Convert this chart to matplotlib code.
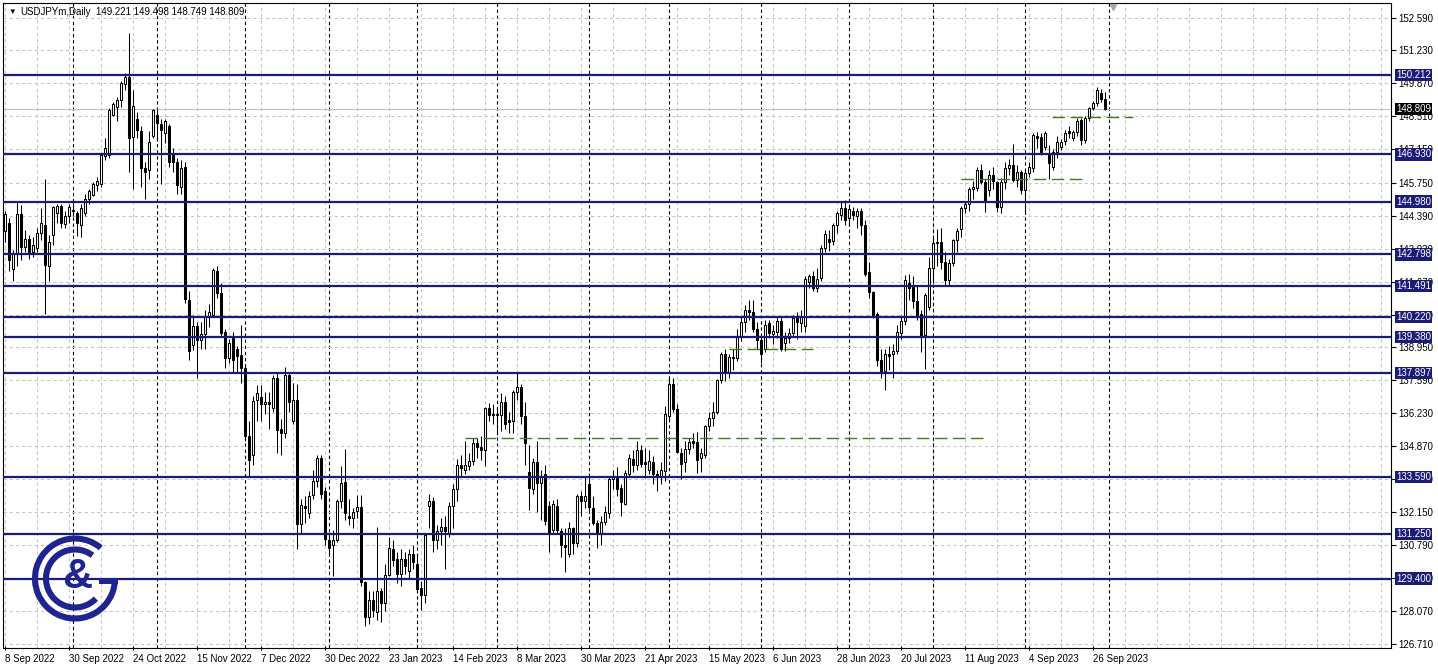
import matplotlib
matplotlib.use('Agg')
import matplotlib.pyplot as plt
from matplotlib.patches import Arc, Rectangle
import matplotlib.transforms as mtransforms
import numpy as np
import pandas as pd

plt.rcParams['font.family'] = ['Liberation Sans', 'DejaVu Sans']

# daily USDJPYm bars, 8 Sep 2022 .. 29 Sep 2023 (Dec 26 2022 missing)
opens = [
    143.75, 144.10, 142.20, 142.80, 144.45, 143.10, 143.45, 142.90, 143.05, 143.70,
    144.00, 142.30, 143.60, 144.50, 144.80, 144.05, 144.40, 144.60, 144.50, 144.00,
    144.50, 145.10, 145.25, 145.65, 145.70, 146.85, 146.90, 148.55, 148.90, 149.20,
    149.85, 150.15, 147.65, 148.40, 147.90, 146.35, 146.30, 147.70, 148.55, 148.20,
    147.80, 148.10, 147.00, 146.60, 145.60, 146.40, 140.90, 139.05, 139.85, 139.25,
    139.50, 140.20, 140.30, 142.10, 141.20, 139.60, 138.50, 139.35, 138.90, 138.65,
    138.10, 135.30, 134.50, 136.80, 136.90, 136.60, 136.70, 136.45, 137.70, 135.60,
    135.40, 137.80, 135.90, 136.80, 131.67, 132.40, 132.10, 132.85, 133.45, 134.40,
    133.00, 131.00, 130.80, 131.00, 132.60, 133.40, 132.00, 131.90, 132.20, 132.35,
    129.25, 127.80, 128.50, 128.00, 128.90, 128.40, 129.55, 130.60, 130.20, 129.60,
    130.20, 129.70, 130.40, 130.00, 129.00, 128.70, 132.40, 132.60, 131.00, 131.35,
    131.55, 131.30, 132.40, 133.10, 134.10, 133.90, 134.05, 134.25, 135.00, 134.85,
    134.70, 136.45, 136.20, 136.15, 136.15, 136.70, 135.95, 135.90, 137.10, 137.30,
    136.10, 133.80, 133.10, 134.20, 133.35, 133.70, 132.40, 131.40, 132.40, 131.35,
    130.80, 130.40, 131.50, 130.85, 132.80, 132.60, 133.30, 132.30, 131.70, 131.30,
    131.75, 132.10, 133.50, 133.55, 133.15, 132.50, 133.70, 134.35, 134.10, 134.70,
    134.20, 133.90, 134.20, 133.70, 133.60, 133.85, 136.10, 137.45, 136.40, 134.60,
    134.20, 134.75, 135.10, 135.05, 134.40, 134.50, 135.70, 136.05, 136.30, 137.60,
    138.67, 137.90, 138.50, 138.50, 139.43, 140.00, 140.50, 140.40, 139.73, 139.25,
    138.90, 139.95, 139.50, 139.60, 140.05, 139.15, 139.35, 139.55, 140.15, 139.95,
    139.85, 141.66, 141.90, 141.40, 141.83, 143.07, 143.45, 143.34, 144.03, 144.42,
    144.72, 144.30, 144.60, 144.40, 144.60, 144.00, 142.07, 141.25, 140.35, 138.42,
    137.97, 138.70, 138.70, 138.80, 139.56, 140.05, 141.60, 141.45, 140.86, 140.35,
    139.45, 140.63, 142.24, 143.25, 143.30, 142.50, 141.75, 142.45, 143.40, 143.85,
    144.70, 144.90, 145.50, 145.55, 146.30, 145.80, 145.45, 146.10, 145.80, 144.76,
    145.80, 146.38, 146.50, 145.87, 146.20, 145.45, 146.17, 146.35, 147.70, 147.66,
    147.25, 147.00, 146.40, 147.04, 147.25, 147.48, 147.89, 147.60, 147.84, 148.35,
    147.52, 148.42, 148.86, 149.04, 149.49, 149.221,
]
highs = [
    144.60, 144.30, 143.00, 144.95, 144.85, 143.80, 143.60, 143.50, 143.90, 144.70,
    145.90, 143.60, 144.80, 144.90, 144.90, 144.60, 144.90, 145.00, 144.60, 144.90,
    145.30, 145.50, 145.80, 146.00, 146.95, 147.60, 148.85, 149.10, 149.30, 149.95,
    150.30, 151.93, 149.60, 148.70, 148.10, 146.60, 147.90, 148.80, 148.80, 148.40,
    148.40, 148.20, 147.20, 146.80, 146.70, 146.60, 141.30, 140.30, 140.00, 140.00,
    140.50, 140.75, 142.25, 142.30, 141.60, 139.70, 139.30, 139.60, 139.00, 139.90,
    138.20, 135.90, 136.95, 137.40, 137.40, 137.10, 137.10, 137.80, 137.90, 136.00,
    138.15, 137.95, 137.50, 137.45, 132.70, 132.80, 133.00, 133.90, 134.50, 134.50,
    133.20, 131.30, 131.40, 132.70, 134.05, 134.77, 132.70, 132.30, 132.85, 132.85,
    129.30, 128.90, 128.90, 131.55, 129.00, 130.00, 131.10, 131.00, 130.50, 130.60,
    130.50, 130.60, 130.80, 130.40, 129.30, 131.25, 132.90, 132.75, 131.60, 131.90,
    132.00, 132.55, 133.30, 134.35, 134.50, 135.10, 134.60, 135.20, 135.20, 135.30,
    136.50, 136.65, 136.60, 136.50, 137.05, 136.95, 136.30, 137.20, 137.90, 137.45,
    136.70, 134.90, 134.40, 135.10, 133.90, 134.10, 132.60, 132.65, 132.70, 131.50,
    131.50, 131.75, 131.55, 132.90, 133.00, 133.60, 133.75, 132.80, 131.80, 132.00,
    132.40, 133.65, 133.90, 134.00, 133.30, 133.90, 134.55, 134.70, 135.10, 134.90,
    134.80, 134.70, 134.45, 133.90, 134.20, 136.55, 137.75, 137.70, 136.60, 134.80,
    135.10, 135.20, 135.40, 135.45, 134.80, 135.75, 136.30, 136.70, 137.65, 138.75,
    138.90, 138.70, 138.90, 139.70, 140.25, 140.70, 140.90, 140.90, 140.00, 139.50,
    140.10, 140.10, 139.90, 140.20, 140.20, 139.60, 139.75, 140.30, 140.40, 140.50,
    141.90, 142.00, 142.10, 142.25, 143.20, 143.80, 143.80, 144.10, 144.60, 144.97,
    145.05, 144.90, 144.75, 144.70, 144.70, 144.20, 142.50, 141.30, 140.40, 138.90,
    138.90, 139.00, 139.10, 139.90, 140.30, 141.95, 142.00, 141.90, 141.50, 140.50,
    141.20, 142.70, 143.55, 143.85, 143.90, 142.90, 142.60, 143.45, 143.90, 144.80,
    145.00, 145.60, 145.85, 146.40, 146.55, 145.90, 146.30, 146.40, 145.85, 145.95,
    146.60, 146.75, 147.37, 146.50, 146.30, 146.30, 146.60, 147.80, 147.87, 147.80,
    147.90, 147.30, 147.15, 147.70, 147.55, 147.95, 148.10, 147.95, 148.45, 148.45,
    148.50, 148.90, 149.15, 149.71, 149.65, 149.498,
]
lows = [
    143.30, 142.10, 141.70, 142.30, 142.55, 142.90, 142.60, 142.70, 142.90, 143.40,
    140.35, 141.70, 143.20, 144.10, 143.90, 143.90, 144.10, 144.40, 143.55, 143.50,
    144.40, 144.90, 145.20, 145.40, 145.60, 146.70, 146.80, 148.50, 148.30, 148.90,
    149.60, 146.20, 145.50, 147.60, 145.60, 145.10, 145.90, 147.60, 147.50, 145.70,
    147.40, 146.40, 146.20, 145.30, 145.30, 140.80, 138.45, 138.85, 137.70, 138.90,
    138.90, 139.80, 140.20, 141.00, 139.40, 138.10, 138.30, 137.90, 137.90, 137.50,
    135.10, 133.60, 134.10, 135.90, 135.90, 136.20, 135.60, 136.30, 134.60, 134.50,
    135.20, 136.30, 135.80, 130.60, 131.30, 131.70, 131.90, 132.70, 133.20, 132.70,
    130.80, 130.40, 129.50, 130.90, 132.30, 131.80, 131.60, 131.50, 131.90, 129.10,
    127.45, 127.50, 127.80, 127.70, 127.60, 128.05, 129.50, 129.90, 129.20, 129.10,
    129.60, 129.40, 129.80, 128.85, 128.10, 128.40, 131.50, 130.50, 130.60, 130.80,
    129.80, 131.10, 131.50, 132.60, 133.60, 133.70, 133.90, 134.10, 134.40, 134.30,
    134.05, 135.90, 135.80, 135.35, 135.50, 135.60, 135.40, 135.40, 136.80, 135.80,
    134.10, 132.25, 132.90, 132.15, 131.80, 131.60, 130.50, 131.30, 131.30, 130.30,
    129.65, 130.30, 130.40, 130.70, 132.00, 132.30, 132.20, 131.60, 130.65, 130.80,
    131.60, 131.90, 133.10, 132.80, 132.00, 132.45, 133.60, 133.80, 133.90, 134.00,
    133.55, 133.70, 133.30, 133.00, 133.30, 133.45, 136.00, 136.30, 134.60, 133.50,
    133.80, 134.55, 134.80, 133.75, 133.80, 134.40, 135.50, 135.70, 136.20, 137.50,
    137.55, 137.70, 138.00, 138.40, 139.20, 139.60, 140.10, 139.60, 138.90, 138.30,
    138.75, 139.35, 139.10, 139.35, 138.80, 138.80, 139.15, 139.40, 139.30, 139.60,
    139.60, 141.40, 141.30, 141.25, 141.70, 142.90, 142.95, 143.20, 143.70, 144.20,
    144.00, 144.00, 144.20, 143.90, 143.60, 141.90, 141.00, 140.15, 138.20, 137.70,
    137.20, 138.00, 137.70, 138.70, 139.30, 139.90, 140.90, 140.60, 140.10, 138.75,
    138.05, 140.50, 141.60, 142.30, 142.20, 141.50, 141.50, 142.30, 142.90, 143.50,
    144.50, 144.60, 145.10, 145.40, 145.70, 144.56, 145.20, 145.50, 144.55, 144.50,
    145.50, 146.10, 145.80, 145.60, 145.30, 144.45, 146.00, 146.20, 147.20, 146.90,
    147.10, 145.90, 146.30, 146.80, 147.10, 147.30, 147.60, 147.50, 147.70, 147.30,
    147.40, 148.30, 148.75, 148.95, 149.10, 148.749,
]
closes = [
    144.45, 142.55, 142.80, 144.45, 143.10, 143.45, 142.90, 143.20, 143.70, 144.10,
    142.35, 143.30, 144.75, 144.80, 144.10, 144.40, 144.75, 144.65, 144.10, 144.70,
    145.10, 145.40, 145.70, 145.85, 146.90, 147.20, 148.75, 149.00, 149.20, 149.90,
    150.15, 147.60, 148.95, 147.95, 146.35, 146.20, 147.45, 148.75, 148.25, 147.95,
    148.30, 146.60, 146.60, 145.65, 146.35, 140.95, 138.80, 139.85, 139.25, 139.50,
    140.20, 140.40, 142.15, 141.20, 139.55, 138.50, 139.15, 138.45, 138.60, 138.10,
    135.30, 134.30, 136.75, 137.05, 136.60, 136.70, 136.60, 137.70, 135.55, 135.40,
    137.80, 136.70, 136.80, 131.67, 132.43, 132.30, 132.80, 133.45, 134.40, 132.90,
    131.05, 130.65, 131.00, 132.60, 133.35, 132.10, 131.90, 132.15, 132.35, 129.25,
    127.80, 128.50, 128.10, 128.90, 128.40, 129.55, 130.65, 130.15, 129.60, 130.20,
    129.90, 130.40, 130.10, 128.95, 128.70, 131.20, 132.60, 131.00, 131.35, 131.55,
    131.35, 132.40, 133.10, 134.10, 133.95, 134.10, 134.25, 135.00, 134.85, 134.70,
    136.45, 136.15, 136.15, 136.20, 136.70, 135.80, 135.85, 137.10, 137.30, 136.10,
    135.00, 133.15, 134.20, 133.35, 133.65, 131.77, 131.25, 132.50, 131.40, 130.80,
    130.70, 131.50, 130.85, 132.80, 132.60, 132.80, 132.35, 131.70, 131.25, 131.75,
    132.15, 133.50, 133.65, 133.10, 132.55, 133.75, 134.40, 134.10, 134.70, 134.15,
    134.15, 134.25, 133.70, 133.60, 133.90, 136.20, 137.45, 136.40, 134.65, 134.15,
    134.75, 135.05, 135.00, 134.30, 134.60, 135.70, 136.05, 136.30, 137.60, 138.67,
    137.94, 138.56, 138.56, 139.43, 140.00, 140.49, 140.40, 139.73, 139.25, 138.70,
    139.90, 139.55, 139.65, 140.05, 138.90, 139.35, 139.55, 140.17, 140.00, 140.20,
    141.77, 141.91, 141.40, 141.80, 143.07, 143.66, 143.30, 144.03, 144.49, 144.72,
    144.21, 144.66, 144.42, 144.60, 144.03, 142.00, 141.25, 140.20, 138.42, 137.97,
    138.70, 138.60, 138.80, 139.57, 140.05, 141.73, 141.40, 140.86, 140.20, 139.39,
    141.14, 142.24, 143.25, 143.30, 142.50, 141.75, 142.45, 143.40, 143.75, 144.70,
    144.90, 145.50, 145.60, 146.30, 145.80, 144.97, 146.10, 145.85, 144.76, 145.80,
    146.38, 146.50, 145.87, 146.21, 145.45, 146.17, 146.42, 147.73, 147.62, 147.04,
    147.80, 146.56, 147.04, 147.45, 147.45, 147.82, 147.80, 147.86, 148.31, 147.52,
    148.42, 148.86, 149.04, 149.59, 149.24, 148.809,
]

# horizontal support / resistance levels
levels = [150.212, 146.930, 144.980, 142.798, 141.491, 140.220,
          139.380, 137.897, 133.590, 131.250, 129.400]
bid = 148.809
price_ticks = [152.590, 151.230, 149.870, 148.510, 147.150, 145.750, 144.390,
               143.030, 141.670, 140.310, 138.950, 137.590, 136.230, 134.870,
               133.510, 132.150, 130.790, 129.430, 128.070, 126.710]
# green dashed trend lines: price, first bar, last bar
trend_price = [148.46, 145.90, 138.90, 135.20]
trend_start = [261.75, 239.0, 181.0, 115.0]
trend_end = [282.0, 270.0, 202.0, 245.75]

navy = '#1b1b78'
W, H = 1438, 668

n = len(closes)
dates = pd.bdate_range('2022-09-08', periods=300)
dates = dates[dates != pd.Timestamp('2022-12-26')][:n + 1]

fig = plt.figure(figsize=(W / 100, H / 100), dpi=100)
ax = fig.add_axes([3 / W, 20 / H, 1388 / W, 645 / H])
ax.set_xlim(-0.5, 346.5)
ax.set_ylim(126.528, 153.19)

o = np.array(opens)
h = np.array(highs)
l = np.array(lows)
c = np.array(closes)
x = np.arange(n)
up = c >= o
bottom = np.minimum(o, c)
height = np.maximum(np.abs(c - o), 0.02)

ax.vlines(x, l, h, color='black', lw=0.75, zorder=3)
ax.bar(x, height, bottom=bottom, width=0.55,
       color=np.where(up, 'white', 'black'), edgecolor='black',
       linewidth=0.75, zorder=4)

# grid
ax.set_yticks(price_ticks)
ax.set_yticklabels([f'{v:.3f}' for v in price_ticks])
ax.grid(axis='y', color='#c4c4c4', ls=(0, (3, 3)), lw=0.75, zorder=0)
for gx in range(0, 347, 8):
    ax.axvline(gx, color='#c4c4c4', ls=(0, (3, 3)), lw=0.75, zorder=0)

# month separators
seps = [i for i in range(1, n + 1) if dates[i].month != dates[i - 1].month]
for sx in seps:
    ax.axvline(sx, color='black', ls=(0, (3, 2.5)), lw=0.8, zorder=1)

# bid line
ax.axhline(bid, color='#c0c0c0', lw=0.8, zorder=2)

for lv in levels:
    ax.axhline(lv, color=navy, lw=1.6, zorder=5)

for p, s, e in zip(trend_price, trend_start, trend_end):
    ax.plot([s, e], [p, p], color='#3f7f12', lw=1.0, ls=(0, (9, 4)), zorder=5)

# x axis labels every 16 bars
xt = list(range(0, n, 16))
ax.set_xticks(xt)
ax.set_xticklabels([f'{dates[i].day} {dates[i]:%b %Y}' for i in xt])
for t in ax.get_xticklabels():
    t.set_horizontalalignment('left')

ax.yaxis.tick_right()
ax.tick_params(axis='y', length=3.5, width=0.8, pad=1.5, labelsize=7,
               direction='out', colors='black')
ax.tick_params(axis='x', length=3, width=0.8, pad=2.5, labelsize=7,
               direction='inout')
for sp in ax.spines.values():
    sp.set_color('black')
    sp.set_linewidth(0.8)

trans = mtransforms.blended_transform_factory(ax.transAxes, ax.transData)
for lv in levels:
    ax.text(1.0035, lv, f'{lv:.3f}', transform=trans, color='white', fontsize=7,
            va='center', ha='left', zorder=10, clip_on=False,
            bbox=dict(boxstyle='square,pad=0.12', fc=navy, ec='none'))
ax.text(1.0035, bid, f'{bid:.3f}', transform=trans, color='white', fontsize=7,
        va='center', ha='left', zorder=10, clip_on=False,
        bbox=dict(boxstyle='square,pad=0.12', fc='black', ec='none'))

# chart shift marker
ax.plot([n + 1], [0.994], transform=mtransforms.blended_transform_factory(
    ax.transData, ax.transAxes), marker='v', ms=5, color='#a8a8a8',
    clip_on=False, zorder=6)

# title
fig.text(8 / W, 1 - 12 / H, '\u25bc', fontsize=5.5, va='center', ha='left')
fig.text(20 / W, 1 - 12 / H, 'USDJPYm,Daily', fontsize=7, va='center', ha='left')
fig.text(96 / W, 1 - 12 / H, '149.221 149.498 148.749 148.809', fontsize=7,
         va='center', ha='left')

# logo
lax = fig.add_axes([0, 0, 1, 1], zorder=20)
lax.set_xlim(0, W)
lax.set_ylim(0, H)
lax.axis('off')
lax.patch.set_alpha(0)
cx, cy = 75, H - 578.5
logo = '#1e2490'
lax.add_patch(Arc((cx, cy), 80, 80, theta1=50, theta2=358, lw=4.4, color=logo))
lax.add_patch(Arc((cx, cy), 58, 58, theta1=53, theta2=316, lw=4.4, color=logo))
lax.add_patch(Rectangle((99, cy - 5), 19, 5.5, color=logo, lw=0))
lax.text(cx + 2, cy + 2, '&', fontsize=30, fontweight='bold', color=logo,
         ha='center', va='center')

fig.savefig('out.png', dpi=100, facecolor='white')
